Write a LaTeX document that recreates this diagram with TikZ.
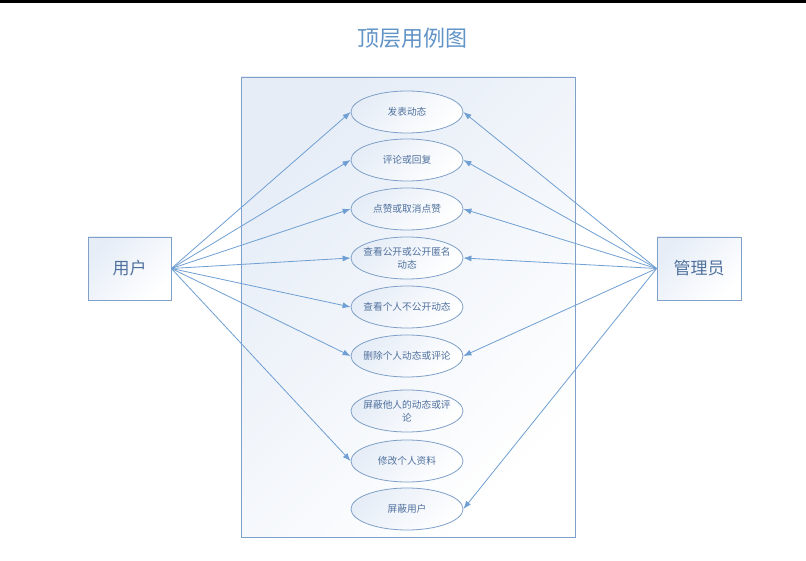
\documentclass[tikz,border=0pt]{standalone}
\usepackage{fontspec}
\setmainfont{Noto Sans CJK SC}
\usetikzlibrary{arrows.meta,shapes.geometric}
\definecolor{linec}{HTML}{6F9FD3}
\definecolor{borderc}{HTML}{7FA0C8}
\definecolor{textc}{HTML}{50719E}
\definecolor{titlec}{HTML}{6294C8}
\definecolor{fillc}{HTML}{E6EDF7}
\begin{document}
\begin{tikzpicture}[x=1pt,y=-1pt,
  usecase/.style={ellipse,draw=borderc,line width=0.8pt,top color=fillc,middle color=white,bottom color=white,shading angle=45,
    minimum width=112pt,minimum height=42pt,text width=90pt,inner xsep=-6pt,inner ysep=0pt,align=center,text=textc,
    font=\fontsize{9.7pt}{12.6pt}\selectfont},
  actor/.style={rectangle,draw=borderc,line width=0.8pt,top color=fillc,middle color=white,bottom color=white,shading angle=45,
    inner sep=0pt,text=textc,font=\fontsize{17pt}{20pt}\selectfont},
  sysbox/.style={rectangle,draw=borderc,line width=0.8pt,top color=fillc,middle color=white,bottom color=white,shading angle=45,
    minimum width=334pt,minimum height=460pt,inner sep=0pt},
  conn/.style={draw=linec,line width=0.8pt,-{Latex[length=8pt,width=6pt]}}]
\useasboundingbox[fill=white] (0,0) rectangle (806,561);
\fill[black] (0,0) rectangle (806,3);
\node[text=titlec,font=\fontsize{22pt}{26pt}\selectfont] (title) at (412,38) {顶层用例图};
\node[sysbox] (sys) at (408,307) {};
\node[actor,minimum width=83pt,minimum height=63pt] (user) at (129.5,268.5) {用户};
\node[actor,minimum width=84pt,minimum height=63pt] (admin) at (699,268.5) {管理员};
\node[usecase] (e1) at (407,112) {发表动态};
\node[usecase] (e2) at (407,160) {评论或回复};
\node[usecase] (e3) at (407,209) {点赞或取消点赞};
\node[usecase] (e4) at (407,258) {查看公开或公开匿名\\动态};
\node[usecase] (e5) at (407,307) {查看个人不公开动态};
\node[usecase] (e6) at (407,356) {删除个人动态或评论};
\node[usecase] (e7) at (407,411) {屏蔽他人的动态或评\\论};
\node[usecase] (e8) at (407,461) {修改个人资料};
\node[usecase] (e9) at (407,509) {屏蔽用户};
\foreach \e in {e1,e2,e3,e4,e5,e6,e8}
  \draw[conn] (user.east) -- (\e.west);
\foreach \e in {e1,e2,e3,e4,e6,e9}
  \draw[conn] (admin.west) -- (\e.east);
\end{tikzpicture}
\end{document}
